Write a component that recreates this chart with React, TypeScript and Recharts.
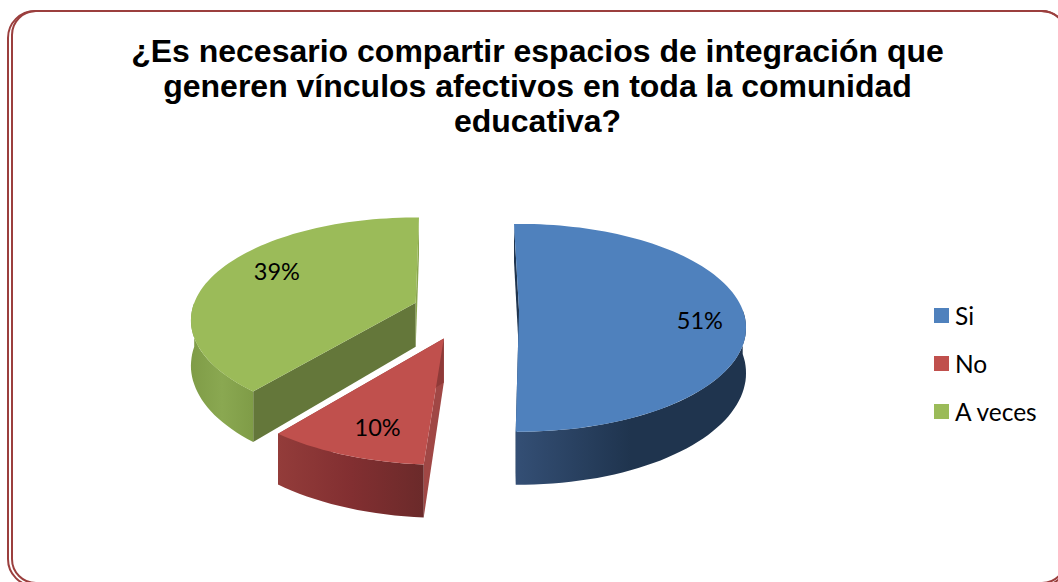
import React from 'react';
import { PieChart, Pie, Cell, Legend } from 'recharts';

const sliceNames = ['Si', 'No', 'A veces'];
const sliceValues = [51, 10, 39];
const sliceColors = ['#4f81bd', '#c0504d', '#9bbb59'];
const titleLines = [
  '¿Es necesario compartir espacios de integración que',
  'generen vínculos afectivos en toda la comunidad',
  'educativa?',
];

const chartData = sliceNames.map((name, i) => ({ name, value: sliceValues[i], color: sliceColors[i] }));

// fake 3D look: Recharts has no 3D pie, so the sector shape projects each slice
const TILT = 0.451;
const PERSPECTIVE = 0.17;
const EXPLODE = 53;
const EXPLODE_TILT = 0.43;
const DEPTH = 44;

const wallStyles: Record<string, { start: string; end: string; outer: string[] }> = {
  Si: { start: '#1f344e', end: '#1f344e', outer: ['#344f75', '#1f344e', '#1f344e'] },
  No: { start: '#a04745', end: '#8f3a38', outer: ['#933c3a', '#822f31', '#6b2a2a'] },
  'A veces': { start: '#64773a', end: '#8aa64e', outer: ['#7f9c47', '#8aa851', '#7f9c47'] },
};

// small per-slice corrections, the original's camera is not a clean projection
const sliceTweaks: Record<string, { dx: number; dy: number; startRot: number; endRot: number; scale: number }> = {
  Si: { dx: 0, dy: 0, startRot: 0, endRot: 1.4, scale: 0.99 },
  No: { dx: -4, dy: 7, startRot: -2, endRot: 0, scale: 1.03 },
  'A veces': { dx: 0, dy: 0, startRot: -1.5, endRot: -2.5, scale: 0.98 },
};

const labelOffsets: Record<string, { f: number; dy: number }> = {
  Si: { f: 0.8, dy: 9 },
  No: { f: 0.75, dy: 7 },
  'A veces': { f: 0.67, dy: -11 },
};

const rad = (a: number) => (a * Math.PI) / 180;

const project = (cx: number, cy: number, r: number, angle: number, f = 1) => {
  const u = Math.cos(rad(angle)) * f;
  const v = -Math.sin(rad(angle)) * f;
  const w = 1 / (1 - PERSPECTIVE * v);
  return { x: cx + r * u * w, y: cy + r * TILT * v * w, w };
};

const explodedCenter = (cx: number, cy: number, midAngle: number, name: string) => ({
  x: cx + EXPLODE * Math.cos(rad(midAngle)) + sliceTweaks[name].dx,
  y: cy - EXPLODE * EXPLODE_TILT * Math.sin(rad(midAngle)) + sliceTweaks[name].dy,
});

const arcPoints = (cx: number, cy: number, r: number, from: number, to: number) => {
  const pts = [];
  const steps = Math.max(2, Math.ceil(Math.abs(to - from) / 2));
  for (let i = 0; i <= steps; i++) {
    pts.push(project(cx, cy, r, from + ((to - from) * i) / steps));
  }
  return pts;
};

const toPath = (pts: { x: number; y: number }[]) =>
  pts.map((p, i) => `${i === 0 ? 'M' : 'L'}${p.x.toFixed(1)},${p.y.toFixed(1)}`).join(' ') + ' Z';

const Slice3D = (props: any) => {
  const { cx, cy, outerRadius, startAngle, endAngle, fill } = props;
  const name = props.name ?? props.payload?.name;
  const style = wallStyles[name];
  const tweak = sliceTweaks[name];
  const midAngle = props.midAngle ?? (startAngle + endAngle) / 2;
  const c = explodedCenter(cx, cy, midAngle, name);
  const r = outerRadius * tweak.scale;
  const from = startAngle + tweak.startRot;
  const to = endAngle + tweak.endRot;
  const rim = arcPoints(c.x, c.y, r, from, to);
  const down = (p: { x: number; y: number; w?: number }) => ({ x: p.x, y: p.y + DEPTH * (p.w ?? 1) });

  const first = rim[0];
  const last = rim[rim.length - 1];
  const hi = Math.min(from, 0);
  const lo = Math.max(to, -180);
  const front = hi > lo ? arcPoints(c.x, c.y, r, hi, lo) : [];
  const gradId = `wall-${sliceNames.indexOf(name)}`;

  return (
    <g>
      <defs>
        <linearGradient id={gradId} x1="0" y1="0" x2="1" y2="0">
          <stop offset="0%" stopColor={style.outer[0]} />
          <stop offset="50%" stopColor={style.outer[1]} />
          <stop offset="100%" stopColor={style.outer[2]} />
        </linearGradient>
      </defs>
      <path d={toPath([c, first, down(first), down(c)])} fill={style.start} />
      <path d={toPath([c, last, down(last), down(c)])} fill={style.end} />
      {front.length > 0 && (
        <path d={toPath([...front, ...front.slice().reverse().map(down)])} fill={`url(#${gradId})`} />
      )}
      <path d={toPath([c, ...rim])} fill={fill} />
    </g>
  );
};

const renderSliceLabel = (props: any) => {
  const { cx, cy, outerRadius, midAngle, value, name } = props;
  const key = name ?? props.payload?.name;
  const c = explodedCenter(cx, cy, midAngle, key);
  const p = project(c.x, c.y, outerRadius, midAngle, labelOffsets[key].f);
  return (
    <text x={p.x} y={p.y + labelOffsets[key].dy} textAnchor="middle" dominantBaseline="central"
      fontFamily="Lato, sans-serif" fontSize={23.5} fill="#000">
      {`${value}%`}
    </text>
  );
};

const renderLegend = (props: any) => {
  const items = [...props.payload].sort((a: any, b: any) => sliceNames.indexOf(a.value) - sliceNames.indexOf(b.value));
  return (
    <div>
      {items.map((entry: any) => (
        <div key={entry.value} style={{ display: 'flex', alignItems: 'center', height: 48 }}>
          <span style={{ width: 15, height: 15, background: entry.color, marginRight: 6 }} />
          <span style={{ fontFamily: 'Lato, sans-serif', fontSize: 24.5, color: '#000', whiteSpace: 'nowrap' }}>{entry.value}</span>
        </div>
      ))}
    </div>
  );
};

const App: React.FC = () => {
  return (
    <div style={{ position: 'absolute', left: 0, top: 0, width: 1058, height: 582, overflow: 'hidden', background: '#fff' }}>
      <div style={{ position: 'absolute', left: 7, top: 10, width: 1062, height: 577, border: '2px solid #9b3f3e', borderRadius: 28, boxSizing: 'border-box' }} />
      <div style={{ position: 'absolute', left: 11, top: 10, width: 1056, height: 574, border: '2px solid #9b3f3e', borderRadius: 25, boxSizing: 'border-box' }} />
      <div style={{
        position: 'absolute', left: 0, top: 34, width: 1075, textAlign: 'center',
        fontFamily: '"Liberation Sans", Arial, sans-serif', fontWeight: 'bold', fontSize: 32, lineHeight: '35px', color: '#000',
      }}>
        {titleLines.map(line => <div key={line}>{line}</div>)}
      </div>
      <div style={{ position: 'absolute', left: 0, top: 0 }}>
        <PieChart width={1058} height={582} margin={{ top: 0, right: 0, bottom: 0, left: 0 }}>
          <Pie
            data={chartData}
            dataKey="value"
            nameKey="name"
            cx={466}
            cy={310}
            outerRadius={226}
            startAngle={91.5}
            endAngle={-268.5}
            stroke="none"
            isAnimationActive={false}
            shape={Slice3D}
            label={renderSliceLabel}
            labelLine={false}
          >
            {chartData.map(entry => <Cell key={entry.name} fill={entry.color} />)}
          </Pie>
          <Legend
            layout="vertical"
            content={renderLegend}
            wrapperStyle={{ position: 'absolute', left: 934, top: 291, width: 124, height: 144 }}
          />
        </PieChart>
      </div>
    </div>
  );
};

export default App;
